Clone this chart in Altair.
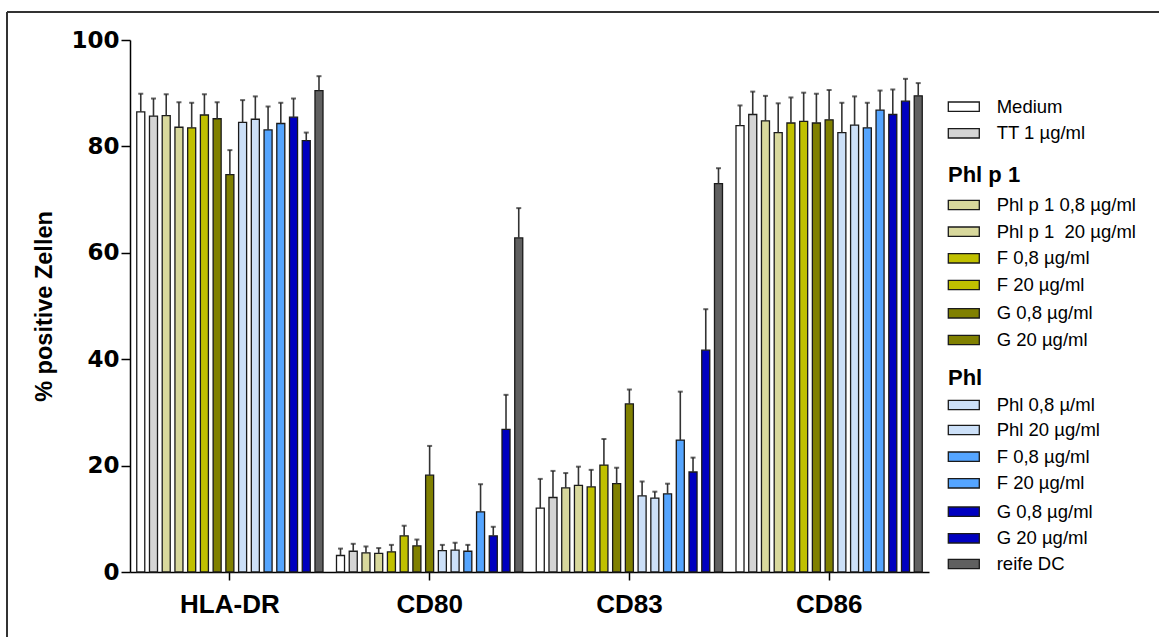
import altair as alt
import pandas as pd

groups = ["HLA-DR", "CD80", "CD83", "CD86"]
series = ["Medium", "TT 1 µg/ml",
          "Phl p 1 0,8 µg/ml", "Phl p 1\u00a0 20 µg/ml",
          "F 0,8 µg/ml (Phl p 1)", "F 20 µg/ml (Phl p 1)",
          "G 0,8 µg/ml (Phl p 1)", "G 20 µg/ml (Phl p 1)",
          "Phl 0,8 µ/ml", "Phl 20 µg/ml",
          "F 0,8 µg/ml (Phl)", "F 20 µg/ml (Phl)",
          "G 0,8 µg/ml (Phl)", "G 20 µg/ml (Phl)",
          "reife DC"]
legend_labels = ["Medium", "TT 1 µg/ml",
                 "Phl p 1 0,8 µg/ml", "Phl p 1\u00a0 20 µg/ml",
                 "F 0,8 µg/ml", "F 20 µg/ml", "G 0,8 µg/ml", "G 20 µg/ml",
                 "Phl 0,8 µ/ml", "Phl 20 µg/ml",
                 "F 0,8 µg/ml", "F 20 µg/ml", "G 0,8 µg/ml", "G 20 µg/ml",
                 "reife DC"]
colors = ["#ffffff", "#d4d4d4",
          "#d8d89c", "#d8d89c",
          "#c0c000", "#c0c000",
          "#808000", "#808000",
          "#cce0f8", "#cce0f8",
          "#55a5ff", "#55a5ff",
          "#0000c0", "#0000c0",
          "#606060"]

hla_mean = [86.5, 85.7, 85.8, 83.6, 83.5, 85.9, 85.2, 74.7, 84.5, 85.1, 83.1, 84.3, 85.5, 81.1, 90.5]
hla_err = [3.4, 3.3, 4.0, 4.7, 4.7, 3.9, 3.1, 4.6, 4.2, 4.3, 4.4, 3.9, 3.5, 1.5, 2.7]
cd80_mean = [3.1, 3.9, 3.6, 3.5, 3.8, 6.8, 4.9, 18.2, 4.0, 4.1, 3.9, 11.3, 6.8, 26.8, 62.8]
cd80_err = [1.3, 1.4, 1.2, 1.0, 1.3, 1.9, 1.2, 5.5, 1.1, 1.4, 1.2, 5.2, 1.7, 6.5, 5.6]
cd83_mean = [12.0, 14.0, 15.8, 16.3, 16.0, 20.1, 16.6, 31.6, 14.3, 13.9, 14.7, 24.8, 18.8, 41.7, 73.0]
cd83_err = [5.5, 5.0, 2.8, 3.5, 3.2, 4.9, 3.0, 2.7, 2.7, 1.2, 1.9, 9.1, 2.7, 7.7, 2.9]
cd86_mean = [83.9, 86.0, 84.8, 82.6, 84.4, 84.7, 84.4, 85.0, 82.6, 84.0, 83.5, 86.8, 86.0, 88.5, 89.5]
cd86_err = [3.8, 4.3, 4.7, 5.5, 4.8, 5.4, 5.5, 5.6, 5.6, 5.4, 4.7, 3.7, 4.7, 4.2, 2.4]

means = [hla_mean, cd80_mean, cd83_mean, cd86_mean]
errs = [hla_err, cd80_err, cd83_err, cd86_err]

rows = []
for g, m, e in zip(groups, means, errs):
    for s, mv, ev in zip(series, m, e):
        rows.append({"group": g, "series": s, "mean": mv, "upper": round(mv + ev, 2)})
df = pd.DataFrame(rows)

# legend layout (pixel rows from top of plot area)
W, H = 799, 532
item_y = [66.7, 93.3, 165, 191.7, 218.3, 245, 273.3, 300,
          365, 390, 416.7, 443.3, 471.7, 498.3, 524]
head_labels = ["Phl p 1", "Phl"]
head_y = [135, 338.3]
leg = pd.DataFrame({"label": legend_labels, "color": colors, "ly": item_y})
leg["ly1"] = leg["ly"] - 4.7
leg["ly2"] = leg["ly"] + 4.7
heads = pd.DataFrame({"label": head_labels, "ly": head_y})

x_enc = alt.X("group:N", sort=groups, title=None,
              scale=alt.Scale(paddingInner=0, paddingOuter=0),
              axis=alt.Axis(labelAngle=0, labelFont="Liberation Sans", labelFontWeight="bold",
                            labelFontSize=26, labelColor="black", labelPadding=11,
                            tickSize=8, tickWidth=1.5, tickColor="black",
                            domainColor="black", domainWidth=1.5))
xo_enc = alt.XOffset("series:N", sort=series,
                     scale=alt.Scale(paddingInner=0.37, paddingOuter=0.53))
y_scale = alt.Scale(domain=[0, 100], nice=False)

base = alt.Chart(df).encode(x=x_enc, xOffset=xo_enc)

bars = base.mark_bar(stroke="#1a1a1a", strokeWidth=1.3).encode(
    y=alt.Y("mean:Q", scale=y_scale, title="% positive Zellen",
            axis=alt.Axis(values=[0, 20, 40, 60, 80, 100], grid=False,
                          labelFont="DejaVu Sans", labelFontWeight="bold", labelFontSize=23,
                          labelColor="black", labelPadding=2,
                          tickSize=9, tickWidth=1.5, tickColor="black",
                          domainColor="black", domainWidth=1.5,
                          titleFont="Liberation Sans", titleFontWeight="bold",
                          titleFontSize=23.5, titleColor="black", titlePadding=14)),
    fill=alt.Fill("series:N", sort=series,
                  scale=alt.Scale(domain=series, range=colors), legend=None),
)

err_rule = base.mark_rule(color="#333333", strokeWidth=1.6).encode(
    y=alt.Y("mean:Q", scale=y_scale), y2="upper:Q")
err_cap = base.mark_tick(color="#222222", size=5, thickness=2, orient="horizontal").encode(
    y=alt.Y("upper:Q", scale=y_scale))

leg_scale = alt.Scale(domain=[0, H], range=[0, H], nice=False, zero=False)
leg_rect = alt.Chart(leg).mark_rect(stroke="#1a1a1a", strokeWidth=1.3).encode(
    x=alt.value(818.3), x2=alt.value(849.3),
    y=alt.Y("ly1:Q", scale=leg_scale, axis=None), y2="ly2:Q",
    fill=alt.Fill("color:N", scale=None),
)
leg_text = alt.Chart(leg).mark_text(align="left", baseline="middle", font="Liberation Sans",
                                    fontSize=18.5, color="black").encode(
    x=alt.value(866.7), y=alt.Y("ly:Q", scale=leg_scale, axis=None), text="label:N")
head_text = alt.Chart(heads).mark_text(align="left", baseline="middle", font="Liberation Sans",
                                       fontSize=22, fontWeight="bold", color="black").encode(
    x=alt.value(818), y=alt.Y("ly:Q", scale=leg_scale, axis=None), text="label:N")

frame_top = alt.Chart(df).mark_rule(color="#333333", strokeWidth=2).encode(
    x=alt.value(-123), x2=alt.value(1040), y=alt.value(-28))
frame_left = alt.Chart(df).mark_rule(color="#333333", strokeWidth=2).encode(
    x=alt.value(-123), y=alt.value(-28), y2=alt.value(610))

main = alt.layer(bars, err_rule, err_cap)
legend_layer = alt.layer(leg_rect, leg_text, head_text)

chart = alt.layer(main, legend_layer, frame_top, frame_left).resolve_scale(
    y="independent", fill="independent"
).properties(
    width=W, height=H,
    padding={"left": 130, "top": 40, "right": 230, "bottom": 65},
    autosize=alt.AutoSizeParams(type="none"),
    background="white",
).configure_view(stroke=None)

chart.save("out.html", embed_options={"renderer": "svg", "actions": False})
